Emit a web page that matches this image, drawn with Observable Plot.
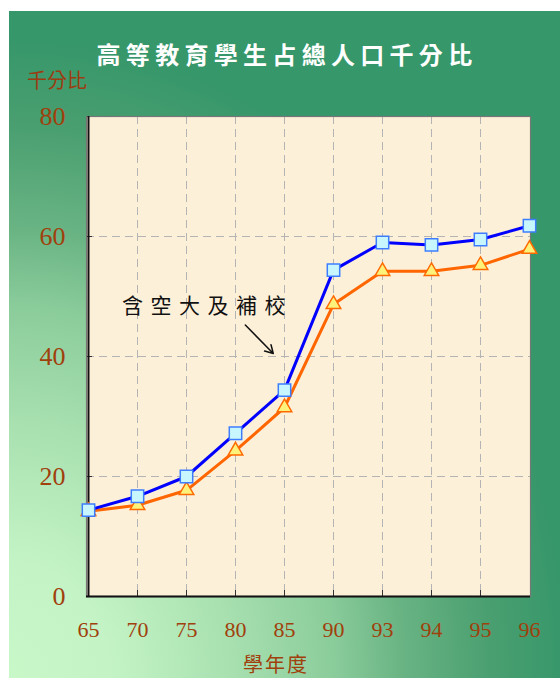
<!DOCTYPE html>
<html><head><meta charset="utf-8">
<script src="https://cdn.jsdelivr.net/npm/d3@7"></script>
<script src="https://cdn.jsdelivr.net/npm/@observablehq/plot@0.6"></script>
<style>
body{margin:0;background:#fff;}
#panel{position:absolute;left:9px;top:11px;width:551px;height:667px;overflow:hidden;
 background:radial-gradient(ellipse 560px 640px at 0% 100%,#c8f8c8 0%,#c4f4c6 18%,#a8e0b0 40%,#8bcc9b 58%,#6ab484 70%,#4a9f70 86%,#36976a 100%);}
#chart{position:absolute;left:0;top:0;}
.lab{position:absolute;font-family:"Noto Sans CJK TC",sans-serif;white-space:nowrap;line-height:1;}
#title{left:0;width:551px;top:31px;text-align:center;color:#fff;font-size:24px;font-weight:bold;letter-spacing:5.3px;padding-left:5px;box-sizing:border-box;}
#ylab{left:18px;top:59px;color:#9c3c10;font-size:20px;}
#xlab{left:234px;top:643px;color:#a0400c;font-size:20px;letter-spacing:2px;}
</style></head>
<body>
<div id="panel">
 <div id="chart"></div>
 <div class="lab" id="title">高等教育學生占總人口千分比</div>
 <div class="lab" id="ylab">千分比</div>
 <div class="lab" id="xlab">學年度</div>
</div>
<script>
const years = ["65","70","75","80","85","90","93","94","95","96"];
const withOpenUniv = [14.4,16.7,20.0,27.2,34.4,54.4,59.0,58.6,59.5,61.8];
const withoutOpenUniv = [14.2,15.2,17.7,24.3,31.5,48.7,54.2,54.2,55.2,57.9];
const yTicks = [0,20,40,60,80];
const annotLabel = [{year:"75", value:48.3, text:"含空大及補校"}];
const annotArrow = [{x1:"80", y1:46.9, x2:"85", y2:38.6}];

const data = years.map((y,i)=>({year:y, a:withOpenUniv[i], b:withoutOpenUniv[i]}));

const chart = Plot.plot({
  width:551, height:667,
  marginLeft:77, marginRight:30, marginTop:105, marginBottom:82,
  style:{background:"transparent", fontFamily:"'Liberation Serif', serif", color:"#a0400c", overflow:"visible"},
  x:{type:"point", domain:years, padding:0, label:null},
  y:{domain:[0,80], label:null},
  marks:[
    Plot.frame({fill:"#fcf0d9", stroke:null}),
    Plot.gridX(years.slice(1,-1), {stroke:"#b4b4b4", strokeOpacity:1, strokeDasharray:"8,5"}),
    Plot.gridY(yTicks.slice(1,-1), {stroke:"#b4b4b4", strokeOpacity:1, strokeDasharray:"8,5"}),
    Plot.ruleX(years.slice(1,-1), {insetTop:474, stroke:"#333"}),
    Plot.ruleY(yTicks.slice(1,-1), {insetRight:438, stroke:"#333"}),
    Plot.frame({stroke:"#777", strokeWidth:1.2}),
    Plot.ruleY([0], {stroke:"#111", strokeWidth:2}),
    Plot.ruleX([years[0]], {stroke:"#111", strokeWidth:2}),
    Plot.axisY({ticks:yTicks, tickSize:0, tickPadding:21, fontSize:26, fill:"#a0400c", label:null}),
    Plot.axisX({tickSize:0, tickPadding:25, fontSize:22, fill:"#a0400c", label:null}),
    Plot.line(data, {x:"year", y:"b", stroke:"#ff6600", strokeWidth:3}),
    Plot.line(data, {x:"year", y:"a", stroke:"#0000ff", strokeWidth:3}),
    Plot.dot(data, {x:"year", y:"b", symbol:"triangle", r:5.4, fill:"#fff27a", stroke:"#ff6a00", strokeWidth:1.5}),
    Plot.dot(data, {x:"year", y:"a", symbol:"square", r:7, fill:"#c8f6ff", stroke:"#3f7dff", strokeWidth:1.5}),
    Plot.text(annotLabel, {x:"year", y:"value", text:"text", dx:21, fontSize:21, fill:"#111",
      fontFamily:"'Noto Sans CJK TC', sans-serif", className:"annot"}),
    Plot.arrow(annotArrow, {x1:"x1", y1:"y1", x2:"x2", y2:"y2", bend:0, insetStart:14, insetEnd:16,
      stroke:"#111", strokeWidth:1.5, headLength:9})
  ]
});
document.getElementById("chart").appendChild(chart);
d3.select(chart).selectAll(".annot text").attr("letter-spacing","7.5px");
</script>
</body></html>
